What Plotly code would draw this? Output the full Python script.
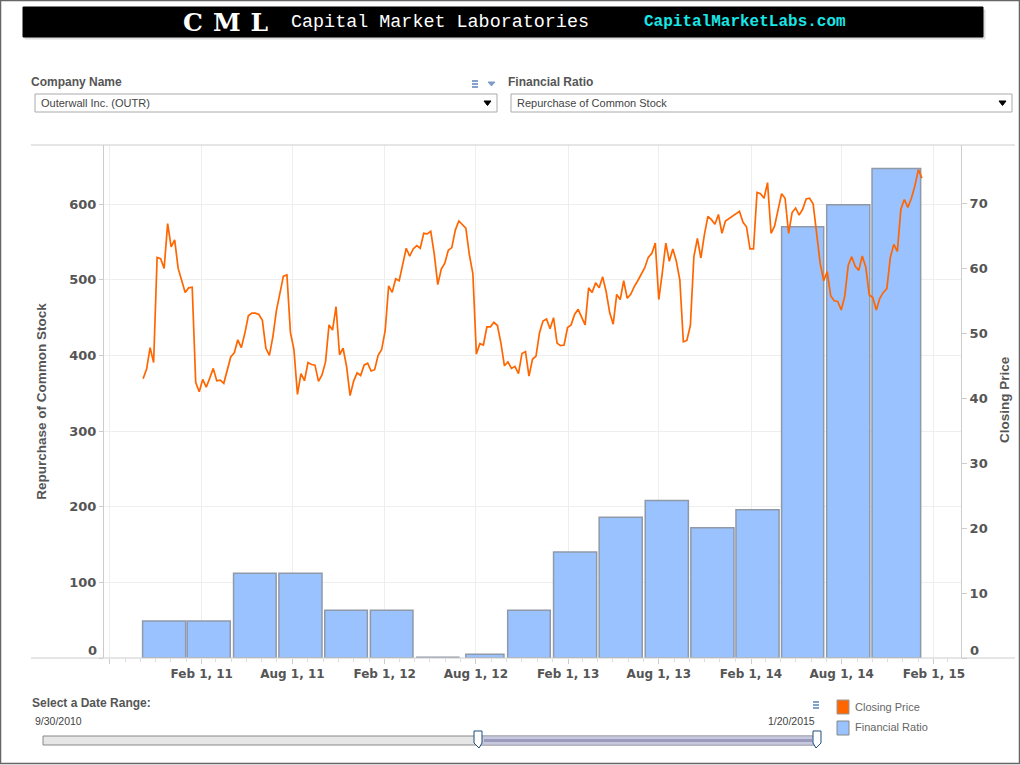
import pandas as pd
import plotly.graph_objects as go
from plotly.subplots import make_subplots

bar_dates = ['2010-11-18', '2011-02-15', '2011-05-18', '2011-08-17', '2011-11-16', '2012-02-15',
             '2012-05-17', '2012-08-19', '2012-11-15', '2013-02-15', '2013-05-17', '2013-08-17',
             '2013-11-16', '2014-02-14', '2014-05-15', '2014-08-14', '2014-11-18']
bar_days = [86, 86, 85, 86, 85, 85, 84, 76, 85, 86, 86, 86, 86, 86, 84, 86, 97]
repurchase = [49, 49, 112, 112, 63, 63, 1, 5, 63, 140, 186, 208, 172, 196, 570, 599, 647]

closing_price = [
    43.0, 44.5, 47.8, 45.5, 61.7, 61.5, 60.0, 66.9, 63.3, 64.4, 60.0, 58.3, 56.3, 57.0, 57.1,
    42.4, 41.0, 42.9, 41.7, 43.1, 44.6, 42.7, 42.8, 42.3, 44.4, 46.4, 47.0, 49.0, 47.8, 50.0,
    52.7, 53.1, 53.1, 52.9, 52.0, 47.7, 46.6, 49.5, 53.5, 56.2, 58.8, 59.0, 50.1, 47.5, 40.6,
    43.8, 42.7, 45.5, 45.2, 45.1, 42.6, 43.6, 45.6, 51.3, 50.5, 54.1, 46.7, 47.7, 44.9, 40.4,
    42.6, 43.9, 43.5, 45.1, 45.4, 44.2, 44.4, 46.6, 47.5, 50.4, 57.3, 56.3, 58.4, 58.1,
    60.6, 63.1, 61.9, 63.0, 63.5, 63.1, 65.4, 65.3, 65.7, 62.2, 57.5, 59.9, 60.8, 62.8, 63.2,
    65.9, 67.3, 66.8, 66.2, 62.1, 59.2, 46.8, 48.4, 48.2, 51.0, 51.0, 51.7, 51.2, 48.5, 45.0,
    45.6, 44.6, 44.9, 43.8, 46.9, 47.2, 43.4, 46.0, 46.5, 50.1, 51.9, 52.2, 50.7, 52.4, 48.5,
    48.1, 48.2, 50.9, 51.3, 52.9, 53.7, 52.5, 51.3, 57.0, 56.3, 57.8, 57.0, 58.7, 56.4, 53.2,
    51.4, 56.0, 55.2, 58.1, 55.4, 56.0, 57.2, 58.1, 59.1, 60.1, 61.7, 62.3, 63.9, 55.2, 59.3,
    63.9, 61.1, 63.0, 61.1, 58.2,
    48.7, 48.9, 51.2, 61.8, 64.6, 61.6, 65.2, 68.0, 67.5, 66.8, 68.3, 65.4, 67.3, 67.7, 68.1,
    68.5, 68.8, 67.1, 66.4, 63.0, 63.0, 71.7, 71.5, 70.8, 73.2, 65.4, 66.5, 69.0, 71.5, 70.8,
    65.4, 68.6, 69.3, 68.2, 69.1, 70.7, 70.8, 69.9, 65.4, 60.8, 58.1, 59.5, 55.8, 55.0, 54.9,
    53.6, 55.7, 60.5, 61.8, 60.3, 59.7, 61.9, 60.2, 55.9, 55.5, 53.6, 55.4, 56.3, 56.9, 61.7,
    63.7, 62.6, 69.1, 70.6, 69.4, 70.8, 72.7, 75.2, 73.9]
price_dates = pd.date_range('2010-10-07', '2015-01-08', periods=len(closing_price))

x_ticks = ['2010-08-01', '2011-02-01', '2011-08-01', '2012-02-01', '2012-08-01', '2013-02-01',
           '2013-08-01', '2014-02-01', '2014-08-01', '2015-02-01']
x_labels = ['', 'Feb 1, 11', 'Aug 1, 11', 'Feb 1, 12', 'Aug 1, 12', 'Feb 1, 13',
            'Aug 1, 13', 'Feb 1, 14', 'Aug 1, 14', 'Feb 1, 15']
left_ticks = [0, 100, 200, 300, 400, 500, 600]
right_ticks = [0, 10, 20, 30, 40, 50, 60, 70]

LEFT, RIGHT, TOP, BOTTOM = 104, 961, 145, 658
GRAY = '#555555'
TICKFONT = dict(family='DejaVu Sans', size=13, color=GRAY, weight='bold')


def px(x):
    return (x - LEFT) / (RIGHT - LEFT)


def py(y):
    return (BOTTOM - y) / (BOTTOM - TOP)


shapes = []
notes = []


def box(x0, y0, x1, y1, fill='rgba(0,0,0,0)', line='#999999', width=1):
    shapes.append(dict(type='rect', xref='paper', yref='paper', x0=px(x0), x1=px(x1), y0=py(y0), y1=py(y1),
                       fillcolor=fill, line=dict(color=line, width=width), layer='above'))


def hline(x0, x1, y, color='#cccccc', width=1):
    shapes.append(dict(type='line', xref='paper', yref='paper', x0=px(x0), x1=px(x1), y0=py(y), y1=py(y),
                       line=dict(color=color, width=width), layer='above'))


def poly(points, fill, line=None):
    path = 'M ' + ' L '.join('%f,%f' % (px(a), py(b)) for a, b in points) + ' Z'
    shapes.append(dict(type='path', xref='paper', yref='paper', path=path, fillcolor=fill,
                       line=dict(color=line or fill, width=1), layer='above'))


def text(x, y, s, size=11, color=GRAY, anchor='left', family='Liberation Sans', bold=False, angle=0):
    # annotations carry about 2px of padding around the text
    nudge = {'left': -2, 'right': 2, 'center': 0}[anchor]
    notes.append(dict(xref='paper', yref='paper', x=px(x + nudge), y=py(y), text=s, showarrow=False,
                      xanchor=anchor, yanchor='middle', textangle=angle,
                      font=dict(family=family, size=size, color=color, weight='bold' if bold else 'normal')))


def menu_icon(x, y):
    for dy in (-3, 0, 3):
        hline(x, x + 6, y + dy, '#5b84b8', 1.5)


# page frame and header
box(0.5, 0.5, 1019.5, 763.5, line='#666666', width=1.5)
box(25, 10, 985, 39, fill='#dddddd', line='#dddddd')
shapes.append(dict(type='rect', xref='paper', yref='paper', x0=px(23), x1=px(983), y0=py(7), y1=py(37),
                   fillcolor='black', line=dict(color='black', width=1), layer='above'))
text(230, 22, '<span style="letter-spacing:10px">CML</span>', 25, 'white', 'center', 'DejaVu Serif', True)
text(291, 22, 'Capital Market Laboratories', 18.4, 'white', family='Liberation Mono')
text(644, 22, 'CapitalMarketLabs.com', 16, '#19e6e6', family='Liberation Mono', bold=True)

# filters
text(31, 82, 'Company Name', 12, GRAY, bold=True)
text(508, 82, 'Financial Ratio', 12, GRAY, bold=True)
menu_icon(472, 84)
poly([(488, 82), (495, 82), (491.5, 86)], '#7f9cc4')
box(35, 94, 497, 112, fill='white', line='#aaaaaa')
box(511, 94, 1012, 112, fill='white', line='#aaaaaa')
text(41, 103, 'Outerwall Inc. (OUTR)', 11, '#444444')
text(517, 103, 'Repurchase of Common Stock', 11, '#444444')
poly([(484, 101), (491, 101), (487.5, 105.5)], 'black')
poly([(999, 101), (1006, 101), (1002.5, 105.5)], 'black')

# chart frame
hline(31, 1015, 145)
hline(31, 1015, 658)
text(97, 650, '0', 13, GRAY, 'right', 'DejaVu Sans', True)
text(970, 650, '0', 13, GRAY, 'left', 'DejaVu Sans', True)
text(1004, 400, 'Closing Price', 13.5, GRAY, 'center', 'Liberation Sans', True, -90)

# date range control
text(32, 703, 'Select a Date Range:', 12, GRAY, bold=True)
text(35, 721, '9/30/2010', 10.5, '#444444')
text(815, 721, '1/20/2015', 10.5, '#444444', 'right')
box(43, 736, 817, 745, fill='#e6e6e6', line='#888888')
box(478, 736, 817, 745, fill='#c8c8de', line='#aaaabb')
hline(484, 812, 740.5, '#9a9abc', 3)
poly([(474, 731), (482, 731), (482, 743), (479, 748), (474, 743)], 'white', '#1f4e79')
poly([(813, 731), (821, 731), (821, 743), (816, 748), (813, 743)], 'white', '#1f4e79')
menu_icon(813, 705)

# legend
box(837, 700, 849, 714, fill='#ff6600', line='#999999')
box(837, 721, 849, 735, fill='#99c2ff', line='#888888')
text(855, 707, 'Closing Price', 11, '#666666')
text(855, 727, 'Financial Ratio', 11, '#666666')

fig = make_subplots(specs=[[{'secondary_y': True}]])

fig.add_trace(go.Bar(x=bar_dates, y=repurchase, width=[d * 86400000 for d in bar_days],
                     name='Financial Ratio', showlegend=False,
                     marker=dict(color='#99c2ff', line=dict(color='#8f99a8', width=1.5))), secondary_y=False)
fig.add_trace(go.Scatter(x=price_dates, y=closing_price, mode='lines', name='Closing Price', showlegend=False,
                         line=dict(color='#ff6600', width=1.7)), secondary_y=True)

fig.update_xaxes(domain=[0, 1], range=['2010-07-21', '2015-03-27'], tickvals=x_ticks, ticktext=x_labels,
                 tickfont=dict(TICKFONT, size=12),
                 ticks='outside', ticklen=5, tickcolor='#cccccc', showgrid=True, gridcolor='#eeeeee',
                 zeroline=False, showline=False,
                 minor=dict(ticks='outside', ticklen=3, tickcolor='#dddddd', dtick='M1', tick0='2010-08-01',
                            showgrid=False))
fig.update_yaxes(range=[0, 678], tickvals=left_ticks, ticktext=['', '100', '200', '300', '400', '500', '600'],
                 tickfont=TICKFONT, ticks='outside', ticklen=4, tickcolor='#cccccc', gridcolor='#eeeeee',
                 showline=True, linecolor='#cccccc', zeroline=False,
                 title=dict(text='Repurchase of Common Stock', standoff=19,
                            font=dict(family='Liberation Sans', size=13.5, color=GRAY, weight='bold')),
                 secondary_y=False)
fig.update_yaxes(range=[0, 79], tickvals=right_ticks, ticktext=['', '10', '20', '30', '40', '50', '60', '70'],
                 tickfont=TICKFONT, ticks='outside', ticklen=5, tickcolor='#cccccc', showgrid=False,
                 showline=True, linecolor='#cccccc', zeroline=False, secondary_y=True)

fig.update_layout(width=1020, height=765, margin=dict(l=LEFT, r=1020 - RIGHT, t=TOP, b=765 - BOTTOM),
                  paper_bgcolor='white', plot_bgcolor='white', barmode='overlay', shapes=shapes, annotations=notes)

# the browser's default body margin would push the page 8px down and right
fig.write_html("out.html", config={'displayModeBar': False}, post_script="document.body.style.margin = '0';")
